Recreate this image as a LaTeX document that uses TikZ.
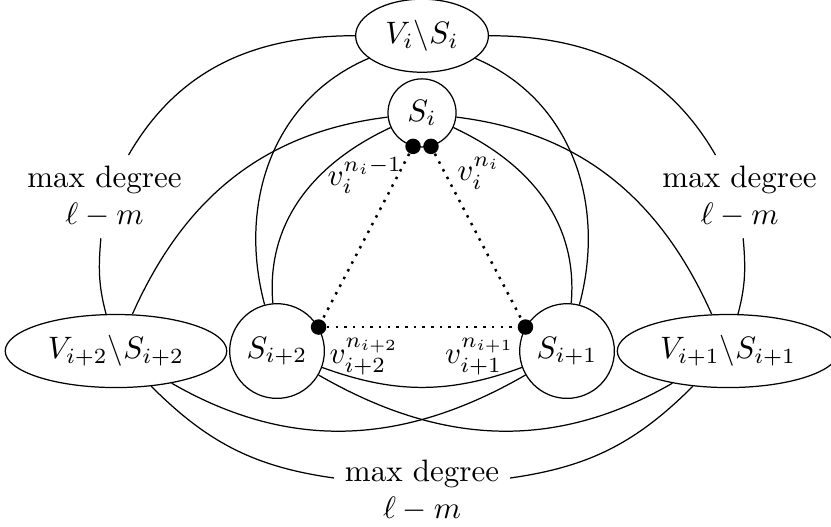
\documentclass[tikz,border=0pt]{standalone}
\usetikzlibrary{shapes.geometric}
\begin{document}
\begin{tikzpicture}[
    part/.style={draw, circle},
    rest/.style={draw, ellipse},
    dot/.style={circle, fill, inner sep=0pt, minimum size=5pt},
    deg/.style={align=center}]
    \useasboundingbox (-4.785,-1.995) rectangle (4.637,3.98);
    \node[rest] (Vi) at (0,3.575) {$V_i\backslash S_i$};
    \node[part] (Si) at (0,2.70) {$S_i$};
    \node[part] (S2) at (-1.644,0) {$S_{i+2}$};
    \node[part] (S1) at (1.644,0) {$S_{i+1}$};
    \node[rest] (V2) at (-3.47,0) {$V_{i+2}\backslash S_{i+2}$};
    \node[rest] (V1) at (3.47,0) {$V_{i+1}\backslash S_{i+1}$};
    \node[deg] (dL) at (-3.60,1.75) {max degree\\$\ell-m$};
    \node[deg] (dR) at (3.60,1.75) {max degree\\$\ell-m$};
    \node[deg] (dB) at (0,-1.58) {max degree\\$\ell-m$};
    \draw (Vi) to[out=180,in=60] (dL); \draw (dL) to[out=-95,in=105] (V2);
    \draw (Vi) to[out=0,in=120] (dR); \draw (dR) to[out=-85,in=75] (V1);
    \draw (V2) to[out=-45,in=172] (dB); \draw (dB) to[out=8,in=225] (V1);
    \draw (Vi) to[out=203,in=105] (S2); \draw (Vi) to[out=-23,in=75] (S1);
    \draw (Si) to[out=187,in=66] (V2); \draw (Si) to[out=-7,in=114] (V1);
    \draw (Si) to[out=205,in=95] (S2); \draw (Si) to[out=-25,in=85] (S1);
    \draw (V2) to[out=-30,in=210] (S1); \draw (S2) to[out=-30,in=210] (V1);
    \draw (S2) to[out=-20,in=200] (S1);
    \node[dot] (a) at (Si.255) {}; \node[dot] (b) at (Si.285) {};
    \node[dot] (c) at (S2.30) {}; \node[dot] (d) at (S1.150) {};
    \draw[thick, dotted] (a) -- (c); \draw[thick, dotted] (b) -- (d);
    \draw[thick, dotted] (c) -- (d);
    \node[below left] (la) at (a) {$v_i^{n_i-1}$};
    \node[below right, xshift=5pt] (lb) at (b) {$v_i^{n_i}$};
    \node[below right] (lc) at (c) {$v_{i+2}^{n_{i+2}}$};
    \node[below left] (ld) at (d) {$v_{i+1}^{n_{i+1}}$};
  \end{tikzpicture}
\end{document}
